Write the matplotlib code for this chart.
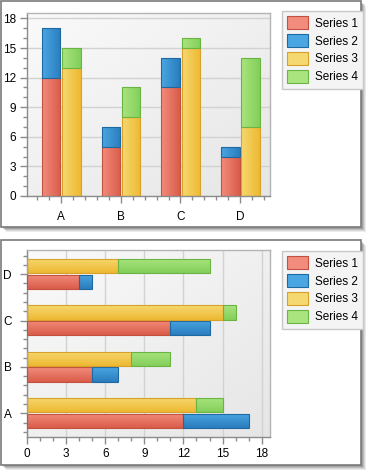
import numpy as np
import matplotlib
matplotlib.use("Agg")
import matplotlib.pyplot as plt
from matplotlib.patches import Rectangle, Patch
from matplotlib.colors import LinearSegmentedColormap
from matplotlib.ticker import MultipleLocator

categories = ["A", "B", "C", "D"]
series_names = ["Series 1", "Series 2", "Series 3", "Series 4"]
series1 = [12, 5, 11, 4]
series2 = [5, 2, 3, 1]
series3 = [13, 8, 15, 7]
series4 = [2, 3, 1, 7]

# (light, dark, edge)
colors = [
    ("#F28C7C", "#DA5C4A", "#C4503F"),
    ("#4AA6E2", "#2A7DBE", "#1F69A3"),
    ("#F6D870", "#EDB932", "#D7A22B"),
    ("#AAE47F", "#83CF5B", "#6AB443"),
]

W, H = 369, 474
plt.rcParams["font.family"] = ["Liberation Sans", "DejaVu Sans"]
fig = plt.figure(figsize=(W / 100, H / 100), dpi=100)
fig.patch.set_facecolor("white")


def px_rect(x0, y0, x1, y1):
    # pixel box (top-left origin) -> figure fraction [l, b, w, h]
    return [x0 / W, 1 - y1 / H, (x1 - x0) / W, (y1 - y0) / H]


def panel(x0, y0, x1, y1):
    for i, a in enumerate([0.10, 0.12, 0.16, 0.22]):
        off = 5 - i
        l, b, w, h = px_rect(x0 + off, y0 + off, x1 + off, y1 + off)
        fig.patches.append(Rectangle((l, b), w, h, transform=fig.transFigure,
                                     facecolor="#404040", alpha=a, edgecolor="none", zorder=-3))
    l, b, w, h = px_rect(x0, y0, x1, y1)
    fig.patches.append(Rectangle((l, b), w, h, transform=fig.transFigure,
                                 facecolor="white", edgecolor="#7A7A7A", lw=1.2, zorder=-2))


def grad_fill(ax, patch, light, dark, horizontal):
    cmap = LinearSegmentedColormap.from_list("g", [dark, light])
    if horizontal:
        arr = np.linspace(0, 1, 64).reshape(-1, 1)
    else:
        arr = np.linspace(1, 0, 64).reshape(1, -1)
    x, y = patch.get_x(), patch.get_y()
    w, h = patch.get_width(), patch.get_height()
    im = ax.imshow(arr, extent=(x, x + w, y, y + h), cmap=cmap, aspect="auto",
                   origin="lower", zorder=2.5, interpolation="bilinear")
    im.set_clip_path(patch)


def style_axes(ax):
    bg = LinearSegmentedColormap.from_list("bg", ["#E6E6E6", "#FAFAFA"])
    yy, xx = np.mgrid[0:1:50j, 0:1:50j]
    ax.imshow((yy + (1 - xx)) / 2, extent=(0, 1, 0, 1), transform=ax.transAxes,
              cmap=bg, aspect="auto", origin="lower", zorder=0)
    for s in ax.spines.values():
        s.set_color("#B4B4B4")
        s.set_linewidth(1)
    ax.spines["left"].set_color("#8C8C8C")
    ax.spines["bottom"].set_color("#8C8C8C")
    ax.tick_params(which="major", length=5, width=1, color="#8C8C8C", labelsize=8.5, pad=3)
    ax.tick_params(which="minor", length=3, width=1, color="#8C8C8C")
    ax.set_axisbelow(True)


def legend(ax, top_px):
    handles = [Patch(facecolor=c[0], edgecolor=c[2], lw=0.8) for c in colors]
    l, b, w, h = px_rect(281.5, top_px, 350.5, top_px + 75.5)
    leg = ax.legend(handles, series_names, loc="upper left",
                    bbox_to_anchor=(l, b + h), bbox_transform=fig.transFigure,
                    borderaxespad=0, frameon=True, fancybox=False, fontsize=8.5,
                    handlelength=1.8, handleheight=1.3, handletextpad=0.6,
                    labelspacing=0.38, borderpad=0.45)
    fr = leg.get_frame()
    fr.set_facecolor("#F4F4F4")
    fr.set_edgecolor("#C8C8C8")
    fr.set_linewidth(1)
    fr.set_alpha(1)


x = np.arange(len(categories))
offs = (-0.165, 0.175)
bw = 0.31
stacks = [(series1, series2, 0, 1), (series3, series4, 2, 3)]

# top panel: vertical stacked bars
panel(0.5, 0.5, 361, 227)
ax1 = fig.add_axes(px_rect(27, 13, 270, 196))
style_axes(ax1)
for (lo, hi, i1, i2), o in zip(stacks, offs):
    b1 = ax1.bar(x + o, lo, bw, facecolor="none", edgecolor=colors[i1][2], lw=0.8, zorder=3)
    b2 = ax1.bar(x + o, hi, bw, bottom=lo, facecolor="none", edgecolor=colors[i2][2], lw=0.8, zorder=3)
    for p in b1:
        grad_fill(ax1, p, colors[i1][0], colors[i1][1], False)
    for p in b2:
        grad_fill(ax1, p, colors[i2][0], colors[i2][1], False)
ax1.set_xlim(-0.57, 3.5)
ax1.set_ylim(0, 18.55)
ax1.set_xticks(x)
ax1.set_xticklabels(categories)
ax1.xaxis.set_minor_locator(MultipleLocator(0.2))
ax1.set_yticks(np.arange(0, 19, 3))
ax1.yaxis.set_minor_locator(MultipleLocator(1))
ax1.grid(axis="y", color="#D2D2D2", lw=1)
ax1.tick_params(axis="x", which="major", pad=6)
legend(ax1, 11)

# bottom panel: horizontal stacked bars
panel(0.5, 240, 361, 465)
ax2 = fig.add_axes(px_rect(27, 250, 270, 437))
style_axes(ax2)
for (lo, hi, i1, i2), o in zip(stacks, offs):
    b1 = ax2.barh(x + o, lo, bw, facecolor="none", edgecolor=colors[i1][2], lw=0.8, zorder=3)
    b2 = ax2.barh(x + o, hi, bw, left=lo, facecolor="none", edgecolor=colors[i2][2], lw=0.8, zorder=3)
    for p in b1:
        grad_fill(ax2, p, colors[i1][0], colors[i1][1], True)
    for p in b2:
        grad_fill(ax2, p, colors[i2][0], colors[i2][1], True)
ax2.set_xlim(0, 18.64)
ax2.set_ylim(-0.51, 3.52)
ax2.set_yticks(x)
ax2.set_yticklabels(categories)
ax2.yaxis.set_minor_locator(MultipleLocator(0.2))
ax2.set_xticks(np.arange(0, 19, 3))
ax2.xaxis.set_minor_locator(MultipleLocator(1))
ax2.grid(axis="x", color="#D2D2D2", lw=1)
ax2.tick_params(axis="y", which="major", pad=6)
legend(ax2, 251)

fig.savefig("out.png", dpi=100)
